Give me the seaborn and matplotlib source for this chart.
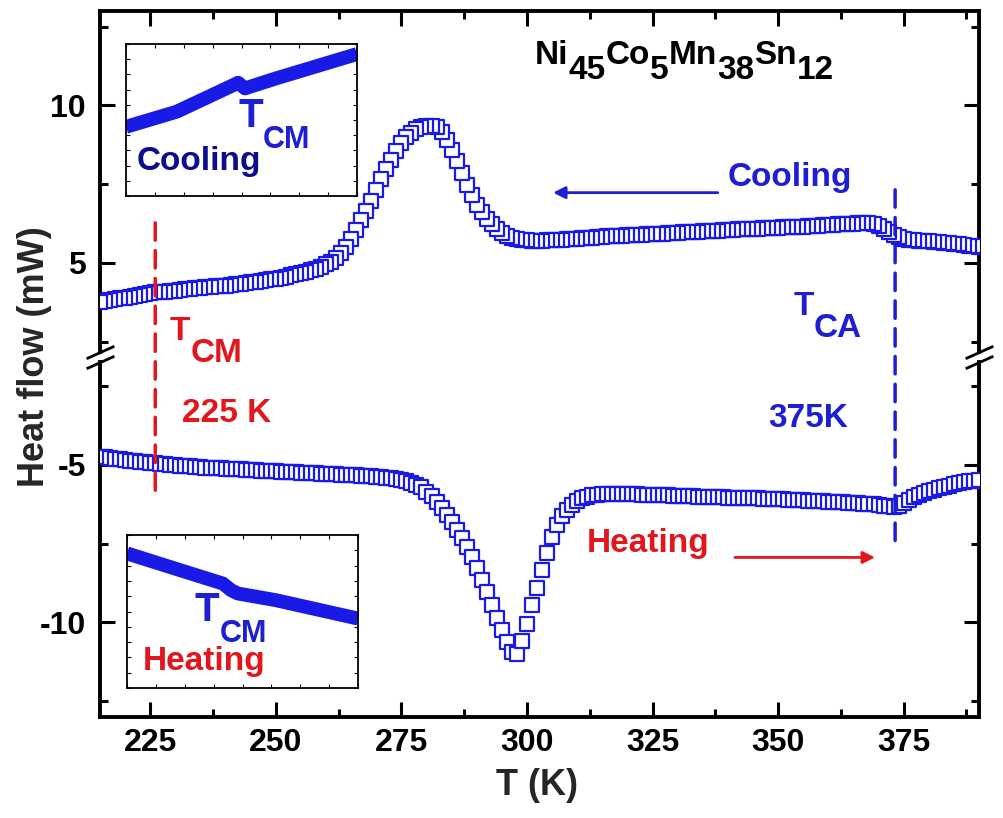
import numpy as np
import pandas as pd
import matplotlib
matplotlib.use('Agg')
import matplotlib.pyplot as plt
from matplotlib.patches import ConnectionPatch
from matplotlib.ticker import MultipleLocator
import seaborn as sns

sns.set_style('ticks')
plt.rcParams['font.family'] = ['Liberation Sans', 'DejaVu Sans']
plt.rcParams['font.weight'] = 'bold'
plt.rcParams['axes.unicode_minus'] = False
plt.rcParams['axes.edgecolor'] = 'black'
plt.rcParams['xtick.color'] = 'black'
plt.rcParams['ytick.color'] = 'black'

BLUE = '#1a1ae6'
TXT_BLUE = '#1e1ed2'
NAVY = '#0c0c8c'
RED = '#e3161e'

# temperature grid of the DSC scans (1 K steps)
temps = np.arange(215, 391)

# heat flow on cooling (mW), 215 ... 390 K
cooling = [
    3.76, 3.79, 3.82, 3.85, 3.88, 3.90, 3.93, 3.95, 3.98, 4.01,
    4.04, 4.06, 4.07, 4.09, 4.11, 4.12, 4.14, 4.16, 4.17, 4.19,
    4.21, 4.22, 4.24, 4.25, 4.27, 4.28, 4.30, 4.32, 4.34, 4.36,
    4.38, 4.40, 4.43, 4.45, 4.48, 4.50, 4.53, 4.56, 4.60, 4.64,
    4.68, 4.72, 4.77, 4.82, 4.88, 4.95, 5.04, 5.15, 5.30, 5.50,
    5.75, 6.05, 6.35, 6.65, 6.98, 7.32, 7.65, 7.98, 8.28, 8.56,
    8.80, 9.00, 9.14, 9.24, 9.31, 9.35, 9.35, 9.30, 9.15, 8.90,
    8.58, 8.22, 7.85, 7.48, 7.15, 6.85, 6.60, 6.40, 6.22, 6.07,
    5.95, 5.86, 5.80, 5.76, 5.74, 5.72, 5.71, 5.71, 5.71, 5.72,
    5.72, 5.73, 5.74, 5.75, 5.76, 5.77, 5.78, 5.79, 5.80, 5.82,
    5.83, 5.84, 5.85, 5.86, 5.86, 5.87, 5.88, 5.89, 5.90, 5.91,
    5.92, 5.93, 5.93, 5.94, 5.95, 5.96, 5.97, 5.98, 5.98, 5.99,
    6.00, 6.01, 6.02, 6.02, 6.03, 6.04, 6.05, 6.06, 6.07, 6.07,
    6.08, 6.09, 6.10, 6.10, 6.11, 6.12, 6.13, 6.13, 6.14, 6.15,
    6.15, 6.16, 6.17, 6.18, 6.19, 6.20, 6.21, 6.22, 6.23, 6.24,
    6.25, 6.26, 6.27, 6.27, 6.24, 6.17, 6.08, 5.98, 5.88, 5.81,
    5.77, 5.74, 5.72, 5.71, 5.70, 5.68, 5.67, 5.66, 5.64, 5.62,
    5.61, 5.59, 5.57, 5.55, 5.53, 5.51,
]

# heat flow on heating (mW), 215 ... 390 K
heating = [
    -4.75, -4.77, -4.79, -4.81, -4.83, -4.85, -4.87, -4.89, -4.91, -4.92,
    -4.94, -4.96, -4.97, -4.99, -5.00, -5.02, -5.03, -5.04, -5.05, -5.07,
    -5.08, -5.09, -5.10, -5.11, -5.11, -5.12, -5.13, -5.14, -5.15, -5.16,
    -5.17, -5.18, -5.19, -5.19, -5.20, -5.21, -5.22, -5.23, -5.23, -5.24,
    -5.25, -5.26, -5.26, -5.27, -5.28, -5.28, -5.29, -5.30, -5.31, -5.32,
    -5.33, -5.34, -5.35, -5.36, -5.37, -5.38, -5.40, -5.41, -5.43, -5.45,
    -5.48, -5.52, -5.57, -5.63, -5.72, -5.85, -6.00, -6.18, -6.38, -6.60,
    -6.83, -7.08, -7.33, -7.60, -7.92, -8.28, -8.65, -9.05, -9.45, -9.85,
    -10.25, -10.62, -10.95, -11.00, -10.60, -10.05, -9.45, -8.90, -8.35, -7.80,
    -7.30, -6.90, -6.62, -6.42, -6.27, -6.15, -6.07, -6.01, -5.97, -5.95,
    -5.94, -5.93, -5.93, -5.93, -5.93, -5.93, -5.94, -5.94, -5.95, -5.95,
    -5.96, -5.96, -5.97, -5.97, -5.98, -5.98, -5.99, -5.99, -6.00, -6.01,
    -6.01, -6.02, -6.02, -6.03, -6.03, -6.04, -6.04, -6.05, -6.05, -6.06,
    -6.07, -6.07, -6.08, -6.08, -6.09, -6.10, -6.10, -6.11, -6.12, -6.12,
    -6.13, -6.14, -6.14, -6.15, -6.16, -6.17, -6.17, -6.18, -6.19, -6.20,
    -6.21, -6.22, -6.23, -6.24, -6.26, -6.28, -6.30, -6.32, -6.33, -6.30,
    -6.22, -6.12, -6.03, -5.95, -5.89, -5.84, -5.79, -5.74, -5.70, -5.66,
    -5.62, -5.59, -5.56, -5.53, -5.50, -5.47,
]

# insets: zoom around T_CM (arbitrary units)
inset_cool_T = [215.0, 219.4, 224.3, 224.7, 225.3, 228.0, 235.0]
inset_cool_q = [0.455, 0.555, 0.730, 0.745, 0.708, 0.774, 0.934]
inset_heat_T = [215.0, 219.2, 223.3, 224.0, 224.6, 227.9, 235.0]
inset_heat_q = [0.880, 0.780, 0.683, 0.640, 0.618, 0.574, 0.454]

T_cm_line = 226.0
T_ca_line = 373.3


def sub_text(ax, x, y, parts, color, coords='data'):
    # parts: (text, fontsize, drop in points) placed one after another
    prev = None
    for s, size, drop in parts:
        xy = (x, y) if prev is None else (1, y)
        xyc = coords if prev is None else (prev, coords)
        prev = ax.annotate(s, xy=xy, xycoords=xyc, xytext=(0, -drop),
                           textcoords='offset points', ha='left', va='baseline',
                           fontsize=size, color=color, fontweight='bold')
    return prev


fig = plt.figure(figsize=(10.04, 8.18), dpi=100)
ax_top = fig.add_axes([0.0996, 0.5697, 0.8755, 0.4169])
ax_bot = fig.add_axes([0.0996, 0.1235, 0.8755, 0.4340])

df_cool = pd.DataFrame({'T': temps, 'Q': cooling}).iloc[::-1]
df_heat = pd.DataFrame({'T': temps, 'Q': heating})

sns.scatterplot(data=df_cool, x='T', y='Q', marker='s', s=115, color='white',
                edgecolor=BLUE, linewidth=1.6, ax=ax_top, legend=False, zorder=3)
sns.scatterplot(data=df_heat, x='T', y='Q', marker='s', s=115, color='white',
                edgecolor=BLUE, linewidth=1.6, ax=ax_bot, legend=False, zorder=3)

for ax in (ax_top, ax_bot):
    ax.set_xlim(215, 390)
    ax.xaxis.set_major_locator(MultipleLocator(25))
    ax.xaxis.set_minor_locator(MultipleLocator(12.5))
    ax.yaxis.set_major_locator(MultipleLocator(5))
    ax.yaxis.set_minor_locator(MultipleLocator(2.5))
    ax.tick_params(which='both', direction='in', width=2.2, top=True, right=True,
                   labelsize=23, colors='black')
    ax.tick_params(which='major', length=11)
    ax.tick_params(which='minor', length=6)
    ax.tick_params(axis='y', pad=10)
    ax.tick_params(axis='x', pad=8)
    ax.set_xlabel('')
    ax.set_ylabel('')
    for sp in ax.spines.values():
        sp.set_linewidth(2.8)
        sp.set_color('black')

ax_top.set_ylim(2.17, 13)
ax_bot.set_ylim(-13, -1.74)
ax_top.tick_params(axis='x', which='both', bottom=False, labelbottom=False)
ax_bot.tick_params(axis='x', which='both', top=False)
ax_top.spines['bottom'].set_visible(False)
ax_bot.spines['top'].set_visible(False)

# axis break marks
kw = dict(marker=[(-1, -0.45), (1, 0.45)], markersize=20, linestyle='none',
          color='k', mec='k', mew=2, clip_on=False)
ax_top.plot([0, 1], [0, 0], transform=ax_top.transAxes, **kw)
ax_bot.plot([0, 1], [1, 1], transform=ax_bot.transAxes, **kw)

# transition temperature markers
con = ConnectionPatch(xyA=(T_cm_line, 6.27), coordsA=ax_top.transData,
                      xyB=(T_cm_line, -6.04), coordsB=ax_bot.transData,
                      color=RED, lw=2.5, linestyle=(0, (5, 3)), zorder=5)
fig.add_artist(con)
con = ConnectionPatch(xyA=(T_ca_line, 7.32), coordsA=ax_top.transData,
                      xyB=(T_ca_line, -7.63), coordsB=ax_bot.transData,
                      color=TXT_BLUE, lw=2.5, linestyle=(0, (5, 3)), zorder=5)
fig.add_artist(con)

# labels in the main panel
sub_text(ax_top, 301.6, 11.31,
         [('Ni', 24, 0), ('45', 24, 10.5), ('Co', 24, 0), ('5', 24, 10.5),
          ('Mn', 24, 0), ('38', 24, 10.5), ('Sn', 24, 0), ('12', 24, 10.5)],
         'black')
sub_text(ax_top, 228.9, 2.55, [('T', 24, 0), ('CM', 24, 16)], RED)
sub_text(ax_top, 353.0, 3.34, [('T', 24, 0), ('CA', 24, 16)], TXT_BLUE)
ax_bot.text(231.3, -3.65, '225 K', color=RED, fontsize=24, va='baseline')
ax_bot.text(348.0, -3.80, '375K', color=TXT_BLUE, fontsize=24, va='baseline')
ax_top.text(340.0, 7.45, 'Cooling', color=TXT_BLUE, fontsize=24, va='baseline')
ax_bot.text(312.0, -7.78, 'Heating', color=RED, fontsize=24, va='baseline')
ax_top.annotate('', xy=(305.2, 7.23), xytext=(338.0, 7.23),
                arrowprops=dict(arrowstyle='-|>', color=TXT_BLUE, lw=2,
                                mutation_scale=18, shrinkA=0, shrinkB=0))
ax_bot.annotate('', xy=(369.3, -7.94), xytext=(341.4, -7.94),
                arrowprops=dict(arrowstyle='-|>', color=RED, lw=2,
                                mutation_scale=18, shrinkA=0, shrinkB=0))

fig.text(0.0339, 0.5636, 'Heat flow (mW)', rotation=90, ha='center',
         va='center', fontsize=26)
fig.text(0.535, 0.0281, 'T (K)', ha='center', va='baseline', fontsize=26)

# insets
ins_top = fig.add_axes([0.1255, 0.7604, 0.2301, 0.1858])
ins_bot = fig.add_axes([0.1265, 0.1589, 0.2301, 0.1870])
sns.lineplot(x=inset_cool_T, y=inset_cool_q, ax=ins_top, color=BLUE, lw=10,
             solid_capstyle='butt')
sns.lineplot(x=inset_heat_T, y=inset_heat_q, ax=ins_bot, color=BLUE, lw=10,
             solid_capstyle='butt')
for ins in (ins_top, ins_bot):
    ins.set_xlim(215, 235)
    ins.set_ylim(0, 1)
    ins.xaxis.set_major_locator(MultipleLocator(2.5))
    ins.yaxis.set_major_locator(MultipleLocator(0.1))
    ins.tick_params(direction='in', length=3, width=0.8, top=True, right=True,
                    labelbottom=False, labelleft=False)
    ins.set_xlabel('')
    ins.set_ylabel('')
    for sp in ins.spines.values():
        sp.set_linewidth(1.3)
        sp.set_color('black')

ins_top.text(0.048, 0.171, 'Cooling', transform=ins_top.transAxes, color=NAVY,
             fontsize=24, va='baseline')
sub_text(ins_top, 0.485, 0.454, [('T', 29, 0), ('CM', 22, 15)], TXT_BLUE,
         coords='axes fraction')
sub_text(ins_bot, 0.294, 0.44, [('T', 29, 0), ('CM', 22, 15)], TXT_BLUE,
         coords='axes fraction')
ins_bot.text(0.069, 0.115, 'Heating', transform=ins_bot.transAxes, color=RED,
             fontsize=24, va='baseline')

fig.savefig('out.png', dpi=100)
